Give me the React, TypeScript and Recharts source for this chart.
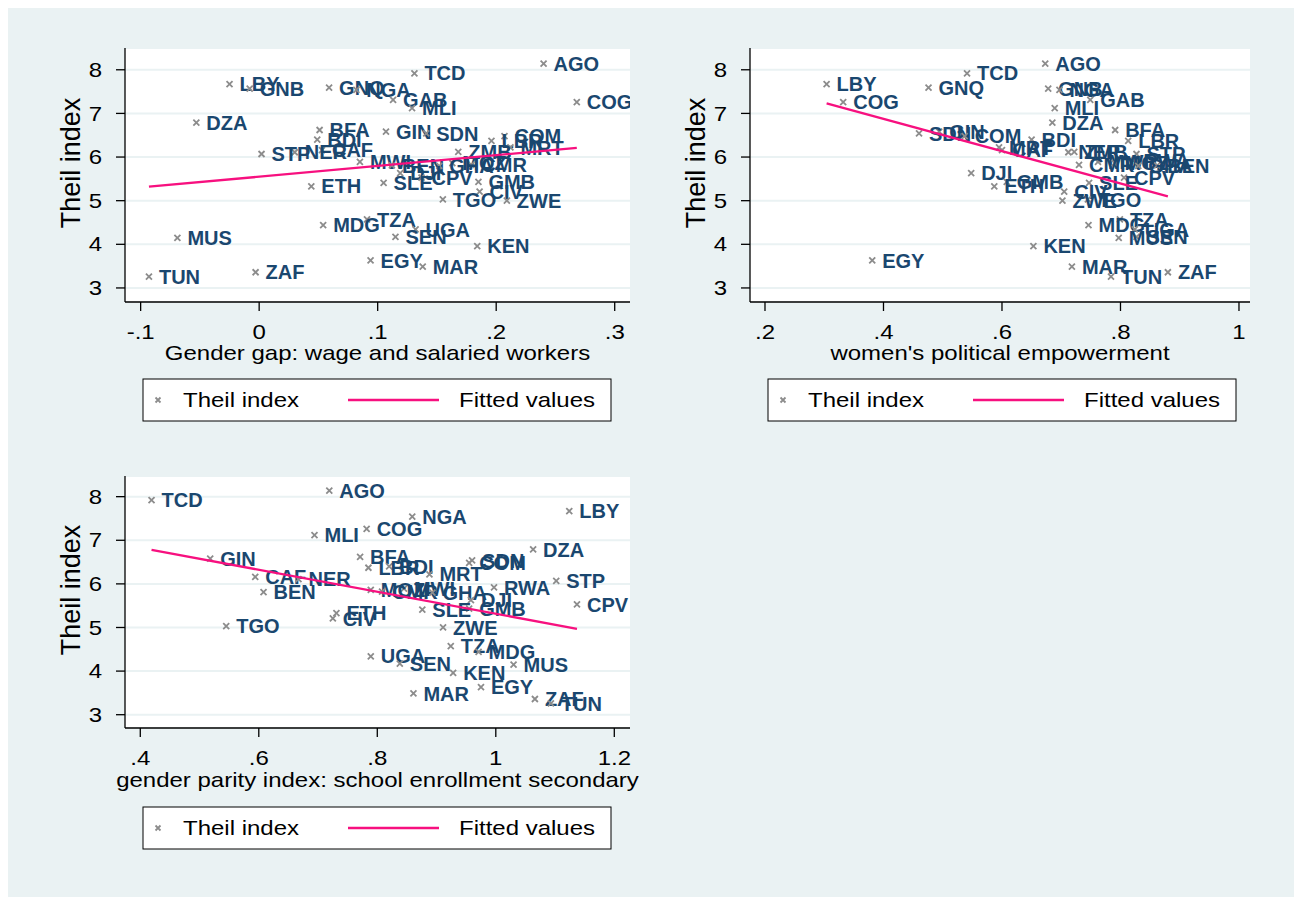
import React from 'react';
import { ScatterChart, Scatter, XAxis, YAxis, CartesianGrid } from 'recharts';

const FONT = '"Liberation Sans", Arial, Helvetica, sans-serif';
const BG = '#eaf2f3';
const NAVY = '#1a476f';
const PINK = '#f7107f';
const GREY = '#8c8c8c';
const STRETCH = 1.2;

// countries and their Theil index (same in every panel)
const countries = ['AGO', 'TCD', 'LBY', 'GNQ', 'GNB', 'NGA', 'GAB', 'COG', 'MLI', 'DZA', 'BFA', 'GIN', 'SDN', 'COM', 'BDI', 'LBR', 'MRT', 'CAF', 'ZMB', 'NER', 'STP', 'RWA', 'MWI', 'MOZ', 'CMR', 'BEN', 'GHA', 'DJI', 'CPV', 'GMB', 'SLE', 'ETH', 'CIV', 'TGO', 'ZWE', 'TZA', 'MDG', 'UGA', 'SEN', 'MUS', 'KEN', 'EGY', 'MAR', 'ZAF', 'TUN'];
const theil = [8.14, 7.92, 7.67, 7.59, 7.57, 7.54, 7.31, 7.26, 7.12, 6.79, 6.62, 6.58, 6.54, 6.48, 6.40, 6.37, 6.22, 6.16, 6.12, 6.11, 6.07, 5.92, 5.89, 5.86, 5.82, 5.81, 5.80, 5.63, 5.53, 5.43, 5.41, 5.33, 5.21, 5.03, 5.00, 4.57, 4.44, 4.34, 4.17, 4.15, 3.96, 3.63, 3.49, 3.36, 3.26];

// x values per panel (null = not shown)
const genderGap = [0.240, 0.131, -0.025, 0.059, -0.008, 0.082, 0.113, 0.268, 0.129, -0.053, 0.051, 0.107, 0.141, 0.207, 0.049, 0.196, 0.212, 0.053, 0.168, 0.030, 0.002, null, 0.085, 0.163, 0.179, 0.112, 0.152, 0.119, 0.137, 0.185, 0.105, 0.044, 0.186, 0.155, 0.209, 0.091, 0.054, 0.132, 0.115, -0.069, 0.184, 0.094, 0.138, -0.003, -0.093];
const empowerment = [0.673, 0.541, 0.304, 0.476, 0.678, 0.697, 0.749, 0.332, 0.689, 0.685, 0.791, 0.494, 0.460, 0.537, 0.650, 0.813, 0.595, 0.600, 0.722, 0.712, 0.827, 0.822, 0.762, 0.790, 0.730, 0.862, 0.830, 0.548, 0.806, 0.608, 0.747, 0.587, 0.705, 0.745, 0.702, 0.799, 0.746, 0.824, 0.827, 0.797, 0.653, 0.381, 0.718, 0.880, 0.784];
const parity = [0.719, 0.419, 1.124, null, null, 0.859, null, 0.782, 0.694, 1.063, 0.771, 0.518, 0.960, 0.955, 0.820, 0.785, 0.888, 0.594, null, 0.667, 1.102, 0.997, 0.845, 0.789, 0.808, 0.608, 0.893, 0.958, 1.137, 0.955, 0.876, 0.731, 0.725, 0.545, 0.911, 0.924, 0.971, 0.789, 0.838, 1.030, 0.928, 0.975, 0.861, 1.066, 1.093];

// fitted line end points
const fit1X = [-0.093, 0.268];
const fit1Y = [5.32, 6.21];
const fit2X = [0.304, 0.880];
const fit2Y = [7.23, 5.10];
const fit3X = [0.419, 1.137];
const fit3Y = [6.78, 4.97];

const yTicks = [3, 4, 5, 6, 7, 8];
const x1Ticks = [-0.1, 0, 0.1, 0.2, 0.3];
const x2Ticks = [0.2, 0.4, 0.6, 0.8, 1];
const x3Ticks = [0.4, 0.6, 0.8, 1, 1.2];

function fmt(v: number) {
  if (v === 0) return '0';
  return String(v).replace(/^(-?)0\./, '$1.');
}

function XTick(props: any) {
  const { x, y, payload } = props;
  return (
    <g transform={`translate(${x},${y})`}>
      <text transform={`scale(${STRETCH},1)`} textAnchor="middle" dy="0.71em" fontSize={20} fontFamily={FONT} fill="#000">
        {fmt(payload.value)}
      </text>
    </g>
  );
}

function YTick(props: any) {
  const { x, y, payload } = props;
  return (
    <g transform={`translate(${x},${y})`}>
      <text transform={`scale(${STRETCH},1)`} textAnchor="end" dy="0.355em" fontSize={20} fontFamily={FONT} fill="#000">
        {fmt(payload.value)}
      </text>
    </g>
  );
}

function Cross({ cx, cy, d = 3 }: { cx: number; cy: number; d?: number }) {
  return (
    <path
      d={`M${cx - d},${cy - d}L${cx + d},${cy + d}M${cx - d},${cy + d}L${cx + d},${cy - d}`}
      stroke={GREY}
      strokeWidth={1.8}
    />
  );
}

function Point(props: any) {
  const { cx, cy, payload } = props;
  if (cx == null || cy == null) return null;
  return (
    <g>
      <Cross cx={cx} cy={cy} />
      <text x={cx + 10} y={cy} dy="0.36em" fontSize={20} fontWeight="bold" fill={NAVY} fontFamily={FONT}>
        {payload.name}
      </text>
    </g>
  );
}

function pointsFor(xs: (number | null)[]) {
  return countries
    .map((name, i) => ({ name, x: xs[i], y: theil[i] }))
    .filter((p) => p.x != null);
}

interface PanelProps {
  left: number;
  top: number;
  plotW: number;
  plotH: number;
  xDomain: [number, number];
  yDomain: [number, number];
  xTicks: number[];
  xs: (number | null)[];
  fitX: number[];
  fitY: number[];
}

function Panel({ left, top, plotW, plotH, xDomain, yDomain, xTicks, xs, fitX, fitY }: PanelProps) {
  const data = pointsFor(xs);
  const fit = fitX.map((x, i) => ({ x, y: fitY[i] }));
  const axisStyle = { stroke: '#000', strokeWidth: 1.3 };
  return (
    <div style={{ position: 'absolute', left, top }}>
      <ScatterChart width={60 + plotW + 10} height={10 + plotH + 50} margin={{ top: 10, right: 10, bottom: 0, left: 0 }}>
        <CartesianGrid vertical={false} stroke={BG} strokeWidth={2} fill="#fff" fillOpacity={1} />
        <XAxis
          type="number"
          dataKey="x"
          domain={xDomain}
          ticks={xTicks}
          interval={0}
          allowDataOverflow
          height={50}
          tickSize={9}
          tickMargin={14}
          tick={<XTick />}
          axisLine={axisStyle}
          tickLine={axisStyle}
        />
        <YAxis
          type="number"
          dataKey="y"
          domain={yDomain}
          ticks={yTicks}
          interval={0}
          allowDataOverflow
          width={60}
          tickSize={9}
          tickMargin={14}
          tick={<YTick />}
          axisLine={axisStyle}
          tickLine={axisStyle}
        />
        <Scatter data={data} shape={<Point />} isAnimationActive={false} />
        <Scatter
          data={fit}
          line={{ stroke: PINK, strokeWidth: 2.3 }}
          shape={() => <g />}
          isAnimationActive={false}
        />
      </ScatterChart>
    </div>
  );
}

function WideText({ x, y, children, anchor = 'middle' }: { x: number; y: number; children: React.ReactNode; anchor?: string }) {
  return (
    <g transform={`translate(${x},${y})`}>
      <text transform={`scale(${STRETCH},1)`} textAnchor={anchor as any} dy="0.36em" fontSize={20} fontFamily={FONT} fill="#000">
        {children}
      </text>
    </g>
  );
}

function Legend({ x, y }: { x: number; y: number }) {
  return (
    <g>
      <rect x={x} y={y} width={468} height={42} fill="#fff" stroke="#000" strokeWidth={1} />
      <Cross cx={x + 15} cy={y + 21} d={2.5} />
      <WideText x={x + 40} y={y + 21} anchor="start">Theil index</WideText>
      <line x1={x + 205} x2={x + 296} y1={y + 21} y2={y + 21} stroke={PINK} strokeWidth={2.3} />
      <WideText x={x + 316} y={y + 21} anchor="start">Fitted values</WideText>
    </g>
  );
}

function YTitle({ x, y }: { x: number; y: number }) {
  return (
    <text transform={`translate(${x},${y}) rotate(-90)`} textAnchor="middle" dy="0.36em" fontSize={27} fontFamily={FONT} fill="#000">
      Theil index
    </text>
  );
}

export default function App() {
  return (
    <div style={{ position: 'relative', width: 1288, height: 889, background: BG, overflow: 'hidden' }}>
      <Panel left={57} top={30} plotW={505} plotH={254} xDomain={[-0.1132, 0.3129]} yDomain={[2.678, 8.499]} xTicks={x1Ticks} xs={genderGap} fitX={fit1X} fitY={fit1Y} />
      <Panel left={682} top={30} plotW={500} plotH={254} xDomain={[0.1747, 1.0186]} yDomain={[2.678, 8.499]} xTicks={x2Ticks} xs={empowerment} fitX={fit2X} fitY={fit2Y} />
      <Panel left={57} top={458} plotW={505} plotH={252} xDomain={[0.3742, 1.2265]} yDomain={[2.695, 8.474]} xTicks={x3Ticks} xs={parity} fitX={fit3X} fitY={fit3Y} />
      <svg width={1288} height={889} style={{ position: 'absolute', left: 0, top: 0, pointerEvents: 'none' }}>
        <YTitle x={62} y={155} />
        <YTitle x={687} y={155} />
        <YTitle x={62} y={582} />
        <WideText x={369.5} y={345}>Gender gap: wage and salaried workers</WideText>
        <WideText x={992} y={345}>women's political empowerment</WideText>
        <WideText x={369.5} y={772}>gender parity index: school enrollment secondary</WideText>
        <Legend x={135} y={371} />
        <Legend x={760} y={371} />
        <Legend x={135} y={799} />
      </svg>
    </div>
  );
}
